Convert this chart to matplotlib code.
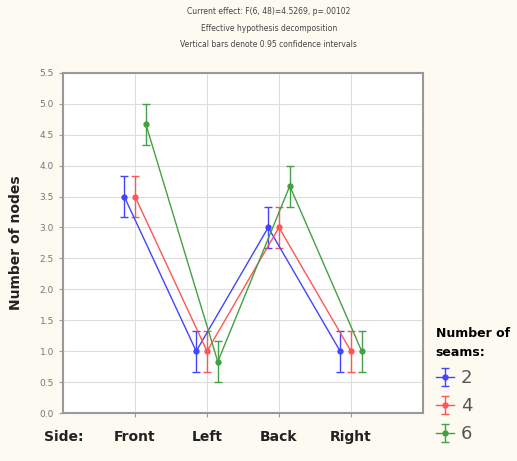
import matplotlib
matplotlib.use('Agg')
import matplotlib.pyplot as plt
import numpy as np

# ---------------------------------------------------------------------------
sides   = ['Front', 'Left', 'Back', 'Right']
seams   = ['2', '4', '6']
means   = {
    '2': [3.50, 1.00, 3.00, 1.00],
    '4': [3.50, 1.00, 3.00, 1.00],
    '6': [4.67, 0.83, 3.67, 1.00],
}
ci_low  = {
    '2': [3.17, 0.67, 2.67, 0.67],
    '4': [3.17, 0.67, 2.67, 0.67],
    '6': [4.33, 0.50, 3.33, 0.67],
}
ci_high = {
    '2': [3.83, 1.33, 3.33, 1.33],
    '4': [3.83, 1.33, 3.33, 1.33],
    '6': [5.00, 1.17, 4.00, 1.33],
}
yticks = np.arange(0, 5.51, 0.5)

colors  = {'2': '#4444ff', '4': '#ff5555', '6': '#44a044'}
offsets = {'2': -0.15, '4': 0.0, '6': 0.15}

# ---------------------------------------------------------------------------
fig = plt.figure(figsize=(5.17, 4.61), dpi=100, facecolor='#fcfaf1')
ax = fig.add_axes([0.122, 0.104, 0.696, 0.738])
ax.set_facecolor('white')

x = np.arange(1, len(sides) + 1)
for s in seams:
    m  = np.array(means[s])
    lo = m - np.array(ci_low[s])
    hi = np.array(ci_high[s]) - m
    ax.errorbar(x + offsets[s], m, yerr=[lo, hi], color=colors[s], lw=1.0,
                elinewidth=1.0, capsize=3, marker='o', ms=3.5, label=s)

ax.set_xlim(0, 5)
ax.set_ylim(0, 5.5)
ax.set_xticks(x)
ax.set_xticklabels(sides, fontsize=10, fontweight='bold', color='#222222')
ax.set_yticks(yticks)
ax.set_yticklabels([f'{v:.1f}' for v in yticks], fontsize=6.5, color='#777777')
ax.tick_params(axis='both', length=3, color='#999999')
ax.tick_params(axis='x', pad=9)
ax.grid(True, color='#dddddd', lw=0.8)
for sp in ax.spines.values():
    sp.set_color('#999999')
    sp.set_linewidth(1.5)

ax.set_ylabel('Number of nodes', fontsize=10, fontweight='bold', color='#222222',
              labelpad=12)
fig.text(0.085, 0.052, 'Side:', fontsize=10, fontweight='bold', color='#222222',
         va='center')

fig.text(0.52, 0.985, 'Current effect: F(6, 48)=4.5269, p=.00102\n'
         'Effective hypothesis decomposition\n'
         'Vertical bars denote 0.95 confidence intervals',
         ha='center', va='top', fontsize=5.5, color='#444444', linespacing=2.1)

leg = ax.legend(title='Number of\nseams:', loc='lower left',
                bbox_to_anchor=(1.0, -0.125), frameon=False, fontsize=13,
                handlelength=1.0, handletextpad=0.4, labelspacing=0.55,
                borderaxespad=0.3)
leg.get_title().set_fontweight('bold')
leg.get_title().set_fontsize(9)
leg.get_title().set_linespacing(1.6)
leg._legend_box.align = 'left'
for t in leg.get_texts():
    t.set_color('#555555')

fig.savefig('out.png', dpi=100, facecolor=fig.get_facecolor())
